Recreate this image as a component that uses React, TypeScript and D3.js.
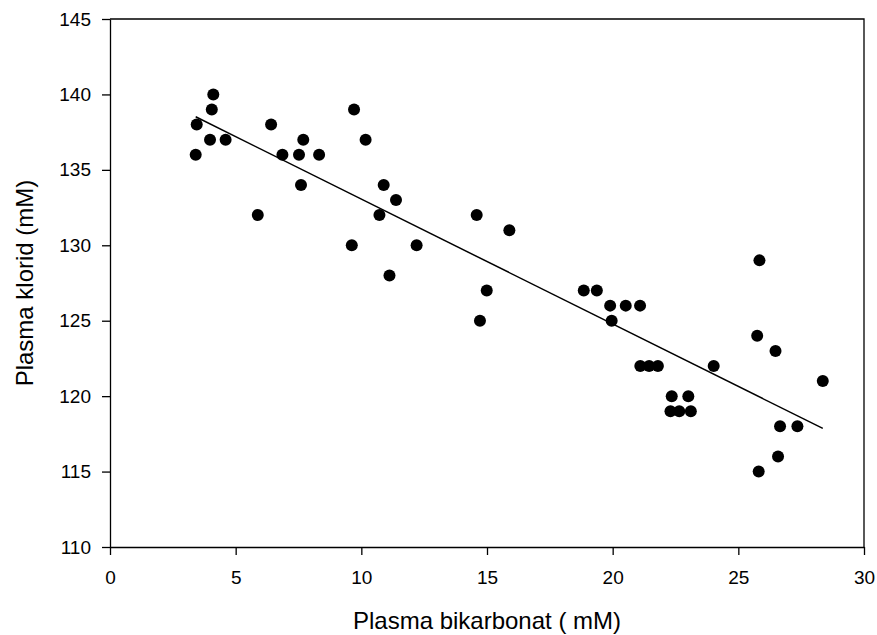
import React, { useEffect, useRef } from "react";
import * as d3 from "d3";

// plasma bicarbonate (mM) vs plasma chloride (mM)
const bicarb = [
  3.45, 3.41, 4.11, 4.05, 3.98, 4.6,
  6.41, 6.86, 7.52, 7.69, 8.32, 7.6, 5.88,
  9.71, 10.17, 10.89, 11.38, 10.72, 9.62, 11.12, 12.2,
  14.59, 15.89, 14.99, 14.72,
  18.85, 19.37, 19.9, 20.52, 21.09, 19.96,
  21.1, 21.45, 21.8, 22.35, 23.01, 22.3, 22.65, 23.11, 24.02,
  25.84, 25.75, 26.48, 28.36, 26.66, 27.35, 26.58, 25.81,
];
const chloride = [
  138, 136, 140, 139, 137, 137,
  138, 136, 136, 137, 136, 134, 132,
  139, 137, 134, 133, 132, 130, 128, 130,
  132, 131, 127, 125,
  127, 127, 126, 126, 126, 125,
  122, 122, 122, 120, 120, 119, 119, 119, 122,
  129, 124, 123, 121, 118, 118, 116, 115,
];
const xTicks = [0, 5, 10, 15, 20, 25, 30];
const yTicks = [110, 115, 120, 125, 130, 135, 140, 145];
const xTitle = "Plasma bikarbonat ( mM)";
const yTitle = "Plasma klorid (mM)";

const FONT = "Arial, 'Liberation Sans', sans-serif";

const App: React.FC = () => {
  const svgRef = useRef<SVGSVGElement | null>(null);

  useEffect(() => {
    const w = 877;
    const h = 635;
    const m = { left: 110, top: 19, right: 877 - 864, bottom: 635 - 547 };

    const svg = d3.select(svgRef.current).attr("width", w).attr("height", h);
    svg.selectAll("*").remove();

    const x = d3.scaleLinear().domain([0, 30]).range([m.left, w - m.right]);
    const y = d3.scaleLinear().domain([110, 145]).range([h - m.bottom, m.top]);

    // frame (top + right)
    svg
      .append("path")
      .attr("d", `M${x(0)},${y(145)}H${x(30)}V${y(110)}`)
      .attr("fill", "none")
      .attr("stroke", "black")
      .attr("stroke-width", 1.3);

    const gx = svg
      .append("g")
      .attr("transform", `translate(0,${y(110)})`)
      .call(d3.axisBottom(x).tickValues(xTicks).tickSize(8).tickSizeOuter(0).tickPadding(16));
    const gy = svg
      .append("g")
      .attr("transform", `translate(${x(0)},0)`)
      .call(d3.axisLeft(y).tickValues(yTicks).tickSize(8).tickSizeOuter(0).tickPadding(11));

    [gx, gy].forEach((g) => {
      g.select(".domain").attr("stroke-width", 1.3);
      g.selectAll(".tick line").attr("stroke-width", 1.3);
      g.selectAll("text").attr("font-family", FONT).attr("font-size", 19).attr("fill", "black");
    });

    // least-squares line
    const pts = bicarb.map((b, i) => ({ x: b, y: chloride[i] }));
    const mx = d3.mean(bicarb) as number;
    const my = d3.mean(chloride) as number;
    const sxy = d3.sum(pts, (p) => (p.x - mx) * (p.y - my));
    const sxx = d3.sum(pts, (p) => (p.x - mx) ** 2);
    const slope = sxy / sxx;
    const icpt = my - slope * mx;
    const [x0, x1] = d3.extent(bicarb) as [number, number];
    const line = d3
      .line<number>()
      .x((d) => x(d))
      .y((d) => y(icpt + slope * d));
    svg
      .append("path")
      .attr("d", line([x0, x1]))
      .attr("fill", "none")
      .attr("stroke", "black")
      .attr("stroke-width", 1.5);

    svg
      .append("g")
      .selectAll("circle")
      .data(pts)
      .join("circle")
      .attr("cx", (d) => x(d.x))
      .attr("cy", (d) => y(d.y))
      .attr("r", 6)
      .attr("fill", "black");

    svg
      .append("text")
      .attr("x", (x(0) + x(30)) / 2)
      .attr("y", 629)
      .attr("text-anchor", "middle")
      .attr("font-family", FONT)
      .attr("font-size", 24)
      .text(xTitle);

    svg
      .append("text")
      .attr("transform", `translate(33,${(y(110) + y(145)) / 2}) rotate(-90)`)
      .attr("text-anchor", "middle")
      .attr("font-family", FONT)
      .attr("font-size", 24)
      .text(yTitle);
  }, []);

  return (
    <div style={{ position: "absolute", left: 0, top: 0, background: "#fff" }}>
      <svg ref={svgRef}></svg>
    </div>
  );
};

export default App;
